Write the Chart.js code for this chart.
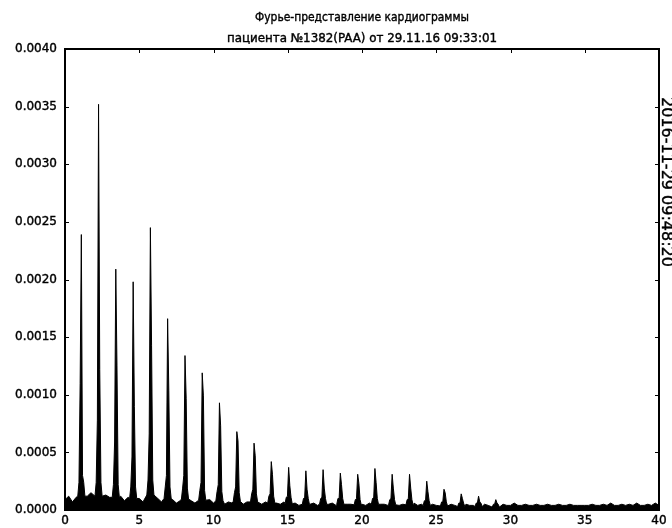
<!DOCTYPE html>
<html>
<head>
<meta charset="utf-8">
<script src="https://cdn.jsdelivr.net/npm/chart.js@4"></script>
<style>
  html, body { margin: 0; padding: 0; background: #fff; }
  #wrap { width: 672px; height: 528px; }
</style>
</head>
<body>
<div id="wrap"><canvas id="spectrum" width="672" height="528"></canvas></div>
<script>
// Заголовок и метка времени
const titleLines = ['Фурье-представление кардиограммы', 'пациента №1382(PAA) от 29.11.16 09:33:01'];
const stampText = '2016-11-29 09:48:20';

// Шкалы
const xTicks = [0, 5, 10, 15, 20, 25, 30, 35, 40];
const yTicks = [0, 0.0005, 0.001, 0.0015, 0.002, 0.0025, 0.003, 0.0035, 0.004];

// Гармоники сердечного ритма: частота (Гц) и амплитуда
const peakHz = [1.10, 2.26, 3.42, 4.59, 5.75, 6.91, 8.08, 9.24, 10.40, 11.57, 12.73, 13.89, 15.06,
                16.22, 17.38, 18.54, 19.71, 20.87, 22.03, 23.20, 24.36, 25.52, 26.68, 27.85, 29.01];
const peakAmp = [0.00239, 0.00352, 0.00209, 0.00198, 0.00245, 0.00166, 0.00134, 0.00119, 0.00093,
                 0.00068, 0.00058, 0.00042, 0.00037, 0.00034, 0.00035, 0.00032, 0.00031, 0.00036,
                 0.00031, 0.00031, 0.00025, 0.00018, 0.00014, 0.00012, 0.00009];
// соседние отсчёты слева и справа от пика
const leftAmp = [0.00110, 0.00078, 0.00059, 0.00046, 0.00066, 0.00030, 0.00030, 0.00024, 0.00022,
                 0.00020, 0.00018, 0.00014, 0.00012, 0.00011, 0.00011, 0.00010, 0.00010, 0.00011,
                 0.00010, 0.00010, 0.00008, 0.00007, 0.00006, 0.00006, 0.00005];
const rightAmp = [0.00030, 0.00122, 0.00125, 0.00090, 0.00143, 0.00104, 0.00097, 0.00099, 0.00073,
                  0.00060, 0.00047, 0.00031, 0.00021, 0.00018, 0.00019, 0.00022, 0.00023, 0.00024,
                  0.00019, 0.00019, 0.00016, 0.00015, 0.00010, 0.00007, 0.00006];
// подножие пика
const skirtAmp = [0.00024, 0.00024, 0.00022, 0.00020, 0.00026, 0.00020, 0.00019, 0.00017, 0.00016,
                  0.00015, 0.00014, 0.00012, 0.00011, 0.00010, 0.00010, 0.00010, 0.00009, 0.00010,
                  0.00009, 0.00009, 0.00008, 0.00007, 0.00006, 0.00006, 0.00005];
const binHz = 0.08;

// Шумовой фон, шаг 0.25 Гц от 0 до 40
const noiseStep = 0.25;
const noiseAmp = [
  0.00009, 0.00012, 0.00007, 0.00011, 0.00013, 0.00016, 0.00012, 0.00015,
  0.00018, 0.00014, 0.00017, 0.00013, 0.00011, 0.00014, 0.00010, 0.00012,
  0.00008, 0.00011, 0.00009, 0.00012, 0.00010, 0.00007, 0.00011, 0.00009,
  0.00008, 0.00010, 0.00007, 0.00009, 0.00007, 0.00009, 0.00006, 0.00008,
  0.00009, 0.00007, 0.00008, 0.00006, 0.00007, 0.00008, 0.00006, 0.00009,
  0.00006, 0.00008, 0.00007, 0.00005, 0.00007, 0.00006, 0.00008, 0.00006,
  0.00005, 0.00007, 0.00006, 0.00005, 0.00006, 0.00005, 0.00007, 0.00006,
  0.00005, 0.00006, 0.00005, 0.00007, 0.00006, 0.00005, 0.00006, 0.00004,
  0.00005, 0.00006, 0.00005, 0.00006, 0.00004, 0.00006, 0.00005, 0.00005,
  0.00006, 0.00004, 0.00005, 0.00006, 0.00005, 0.00005, 0.00004, 0.00006,
  0.00005, 0.00004, 0.00006, 0.00005, 0.00004, 0.00005, 0.00005, 0.00004,
  0.00005, 0.00006, 0.00004, 0.00005, 0.00004, 0.00005, 0.00006, 0.00004,
  0.00005, 0.00004, 0.00005, 0.00005, 0.00004, 0.00005, 0.00004, 0.00006,
  0.00005, 0.00004, 0.00005, 0.00004, 0.00005, 0.00004, 0.00004, 0.00005,
  0.00004, 0.00005, 0.00004, 0.00004, 0.00005, 0.00004, 0.00005, 0.00004,
  0.00004, 0.00006, 0.00004, 0.00004, 0.00005, 0.00004, 0.00004, 0.00005,
  0.00004, 0.00004, 0.00005, 0.00004, 0.00004, 0.00005, 0.00004, 0.00004,
  0.00005, 0.00004, 0.00004, 0.00004, 0.00004, 0.00004, 0.00005, 0.00004,
  0.00004, 0.00005, 0.00004, 0.00006, 0.00004, 0.00004, 0.00005, 0.00004,
  0.00005, 0.00004, 0.00006, 0.00004, 0.00004, 0.00005, 0.00004, 0.00006,
  0.00004
];

// Собираем точки спектра: фон + пики
const points = [];
noiseAmp.forEach((v, i) => {
  const f = i * noiseStep;
  const nearPeak = peakHz.some(p => Math.abs(f - p) < 3.5 * binHz);
  if (!nearPeak) points.push({ x: f, y: v });
});
peakHz.forEach((f, i) => {
  points.push({ x: f - 3 * binHz, y: skirtAmp[i] * 0.5 });
  points.push({ x: f - 2 * binHz, y: skirtAmp[i] });
  points.push({ x: f - binHz, y: leftAmp[i] });
  points.push({ x: f, y: peakAmp[i] });
  points.push({ x: f + binHz, y: rightAmp[i] });
  points.push({ x: f + 2 * binHz, y: skirtAmp[i] });
  points.push({ x: f + 3 * binHz, y: skirtAmp[i] * 0.5 });
});
points.sort((a, b) => a.x - b.x);

const FONT = 'DejaVu Sans';

// Рамка, засечки внутрь, заголовок и штамп времени
const framePlugin = {
  id: 'frame',
  afterDraw(chart) {
    const { ctx, chartArea: a, scales } = chart;
    ctx.save();
    ctx.strokeStyle = '#000';
    ctx.lineWidth = 1;
    ctx.beginPath();
    xTicks.forEach(t => {
      const px = Math.round(scales.x.getPixelForValue(t)) + 0.5;
      ctx.moveTo(px, a.bottom); ctx.lineTo(px, a.bottom - 4);
      ctx.moveTo(px, a.top); ctx.lineTo(px, a.top + 4);
    });
    yTicks.forEach(t => {
      const py = Math.round(scales.y.getPixelForValue(t)) + 0.5;
      ctx.moveTo(a.left, py); ctx.lineTo(a.left + 4, py);
      ctx.moveTo(a.right, py); ctx.lineTo(a.right - 4, py);
    });
    ctx.stroke();
    ctx.lineWidth = 2;
    ctx.strokeRect(a.left, a.top, a.right - a.left, a.bottom - a.top);

    ctx.fillStyle = '#000';
    ctx.lineWidth = 0.4;
    ctx.font = '12px "' + FONT + '"';
    ctx.textAlign = 'center';
    ctx.textBaseline = 'alphabetic';
    const cx = (a.left + a.right) / 2;
    ctx.fillText(titleLines[0], cx, 21, 214);
    ctx.strokeText(titleLines[0], cx, 21, 214);
    ctx.fillText(titleLines[1], cx, 42, 270);
    ctx.strokeText(titleLines[1], cx, 42, 270);

    ctx.translate(662, 97);
    ctx.rotate(Math.PI / 2);
    ctx.textAlign = 'left';
    ctx.font = '16px "' + FONT + '"';
    ctx.fillText(stampText, 0, 0);
    ctx.strokeText(stampText, 0, 0);
    ctx.restore();
  }
};

const ctx = document.getElementById('spectrum').getContext('2d');
const spectrumChart = new Chart(ctx, {
  type: 'line',
  data: {
    datasets: [{
      data: points,
      borderColor: '#000',
      backgroundColor: '#000',
      borderWidth: 1,
      pointRadius: 0,
      tension: 0,
      fill: 'origin'
    }]
  },
  options: {
    responsive: false,
    animation: false,
    layout: { padding: { top: 49, right: 13, left: 0, bottom: 0 } },
    plugins: { legend: { display: false }, tooltip: { enabled: false } },
    scales: {
      x: {
        type: 'linear',
        min: 0, max: 40,
        grid: { display: false, drawTicks: false },
        border: { display: false },
        afterBuildTicks: s => { s.ticks = xTicks.map(v => ({ value: v })); },
        afterFit: s => { s.height = 18; },
        ticks: {
          color: '#000', padding: 4, maxRotation: 0,
          textStrokeColor: '#000', textStrokeWidth: 0.4,
          font: { family: FONT, size: 12 },
          callback: v => String(v)
        }
      },
      y: {
        type: 'linear',
        min: 0, max: 0.004,
        grid: { display: false, drawTicks: false },
        border: { display: false },
        afterBuildTicks: s => { s.ticks = yTicks.map(v => ({ value: v })); },
        afterFit: s => { s.width = 65; },
        ticks: {
          color: '#000', padding: 8,
          textStrokeColor: '#000', textStrokeWidth: 0.4,
          font: { family: FONT, size: 12 },
          callback: v => v.toFixed(4)
        }
      }
    }
  },
  plugins: [framePlugin]
});
</script>
</body>
</html>
